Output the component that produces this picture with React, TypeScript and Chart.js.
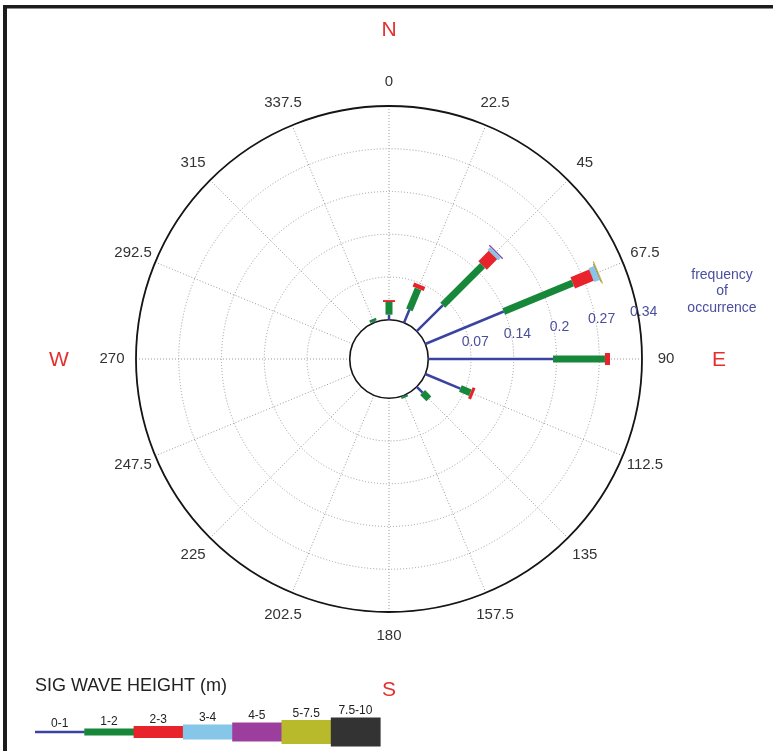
import React, { useEffect, useRef } from 'react';
import { Chart, registerables } from 'chart.js';

Chart.register(...registerables);

// ---- data ----
const directions = ['0', '22.5', '45', '67.5', '90', '112.5', '135', '157.5', '180', '202.5', '225', '247.5', '270', '292.5', '315', '337.5'];
const heightBins = ['0-1', '1-2', '2-3', '3-4', '4-5', '5-7.5', '7.5-10'];

const freq0to1 = [0.008, 0.022, 0.058, 0.134, 0.197, 0.060, 0.013, 0.001, 0, 0, 0, 0, 0, 0, 0, 0.002];
const freq1to2 = [0.020, 0.036, 0.089, 0.118, 0.082, 0.017, 0.014, 0.003, 0, 0, 0, 0, 0, 0, 0, 0.004];
const freq2to3 = [0.003, 0.007, 0.023, 0.032, 0.008, 0.005, 0, 0, 0, 0, 0, 0, 0, 0, 0, 0];
const freq3to4 = [0, 0, 0.006, 0.009, 0, 0, 0, 0, 0, 0, 0, 0, 0, 0, 0, 0];
const freq4to5 = [0, 0, 0.002, 0.001, 0, 0, 0, 0, 0, 0, 0, 0, 0, 0, 0, 0];
const freq5to75 = [0, 0, 0, 0.002, 0, 0, 0, 0, 0, 0, 0, 0, 0, 0, 0, 0];
const freq75to10 = [0, 0, 0, 0, 0, 0, 0, 0, 0, 0, 0, 0, 0, 0, 0, 0];

const binSeries = [freq0to1, freq1to2, freq2to3, freq3to4, freq4to5, freq5to75, freq75to10];

const ringValues = [0.0675, 0.135, 0.2025, 0.27, 0.3375];
const ringLabels = ['0.07', '0.14', '0.2', '0.27', '0.34'];
const calmOffset = 0.062;

const compassLetters = ['N', 'E', 'S', 'W'];
const compassIndices = [0, 4, 8, 12];

// ---- styles ----
const binColors = ['#3b43a0', '#17873a', '#e8232b', '#86c6e8', '#9c3e9e', '#b8ba2c', '#333333'];
const binWidths = [2.5, 7, 12, 15, 19, 24, 29];
const FONT = '"Liberation Sans", Arial, Helvetica, sans-serif';
const BLUE_TEXT = '#4b4e9e';
const RED_TEXT = '#e3302e';

const datasets = binSeries.map((vals, j) => {
  const starts = directions.map((_, i) => binSeries.slice(0, j).reduce((a, s) => a + s[i], 0));
  const halfLen = (c: any) => {
    const s = c.chart.scales.r;
    if (!s || !s.drawingArea) return 0;
    return (vals[c.dataIndex] * s.drawingArea) / (s.max - s.min) / 2;
  };
  return {
    label: heightBins[j],
    data: vals.map((v, i) => (v > 0 ? starts[i] + v / 2 : null)),
    showLine: false,
    fill: false,
    borderColor: binColors[j],
    backgroundColor: binColors[j],
    pointStyle: 'line',
    pointBorderColor: binColors[j],
    pointBackgroundColor: binColors[j],
    pointBorderWidth: binWidths[j],
    pointHoverBorderWidth: binWidths[j],
    pointRotation: (c: any) => {
      const s = c.chart.scales.r;
      return (s.getIndexAngle(c.dataIndex) * 180) / Math.PI - 90;
    },
    pointRadius: halfLen,
    pointHoverRadius: halfLen,
  };
});

const decorPlugin = {
  id: 'decor',
  beforeDatasetsDraw(chart: any) {
    const s = chart.scales.r;
    const ctx = chart.ctx;
    const r0 = s.getDistanceFromCenterForValue(0);
    const rOut = s.getDistanceFromCenterForValue(s.max);
    ctx.save();
    // calm hole
    ctx.beginPath();
    ctx.arc(s.xCenter, s.yCenter, r0, 0, Math.PI * 2);
    ctx.fillStyle = '#ffffff';
    ctx.fill();
    ctx.setLineDash([]);
    ctx.lineWidth = 1.6;
    ctx.strokeStyle = '#151515';
    ctx.stroke();
    // outer ring
    ctx.beginPath();
    ctx.arc(s.xCenter, s.yCenter, rOut, 0, Math.PI * 2);
    ctx.lineWidth = 1.8;
    ctx.stroke();

    // direction labels
    ctx.font = `15px ${FONT}`;
    ctx.fillStyle = '#333333';
    ctx.textAlign = 'center';
    ctx.textBaseline = 'middle';
    chart.data.labels.forEach((lab: string, i: number) => {
      const p = s.getPointPosition(i, rOut + 24);
      ctx.fillText(lab, p.x, p.y);
    });

    // compass letters
    ctx.font = `21px ${FONT}`;
    ctx.fillStyle = RED_TEXT;
    compassLetters.forEach((l, k) => {
      const p = s.getPointPosition(compassIndices[k], rOut + 77);
      ctx.fillText(l, p.x, p.y + 1);
    });

    // ring value labels
    ctx.font = `14px ${FONT}`;
    ctx.fillStyle = BLUE_TEXT;
    const ang = (-10 * Math.PI) / 180;
    ringValues.forEach((v, k) => {
      const d = s.getDistanceFromCenterForValue(v);
      ctx.fillText(ringLabels[k], s.xCenter + Math.cos(ang) * d + 5.5, s.yCenter + Math.sin(ang) * d - 3);
    });
    ctx.restore();
  },
  afterDraw(chart: any) {
    const ctx = chart.ctx;
    ctx.save();
    // frame
    ctx.fillStyle = '#1c1c1c';
    ctx.fillRect(3, 5, 775, 3.5);
    ctx.fillRect(3, 5, 4, 760);

    // frequency of occurrence
    ctx.font = `14px ${FONT}`;
    ctx.fillStyle = BLUE_TEXT;
    ctx.textAlign = 'center';
    ctx.textBaseline = 'middle';
    ['frequency', 'of', 'occurrence'].forEach((t, k) => ctx.fillText(t, 722, 275 + k * 16.5));

    // legend
    ctx.textAlign = 'left';
    ctx.fillStyle = '#222222';
    ctx.font = `18px ${FONT}`;
    ctx.fillText('SIG WAVE HEIGHT (m)', 35, 686);
    const lx = 35;
    const lw = 49.3;
    const ly = 732;
    heightBins.forEach((lab, j) => {
      const x = lx + j * lw;
      const h = binWidths[j];
      ctx.fillStyle = binColors[j];
      ctx.fillRect(x, ly - h / 2, lw + 0.5, h);
      ctx.fillStyle = '#222222';
      ctx.font = `12px ${FONT}`;
      ctx.textAlign = 'center';
      ctx.textBaseline = 'alphabetic';
      ctx.fillText(lab, x + lw / 2, ly - h / 2 - 3.5);
    });
    ctx.restore();
  },
};

export default function App() {
  const ref = useRef<HTMLCanvasElement>(null);
  useEffect(() => {
    document.body.style.margin = '0';
    document.body.style.overflow = 'hidden';
    const chart = new Chart(ref.current as HTMLCanvasElement, {
      type: 'radar',
      data: { labels: directions, datasets: datasets as any },
      options: {
        responsive: false,
        animation: false,
        devicePixelRatio: 1,
        events: [],
        layout: { padding: { left: 136, right: 131, top: 106, bottom: 139 } },
        plugins: { legend: { display: false }, tooltip: { enabled: false } },
        scales: {
          r: {
            min: -calmOffset,
            max: ringValues[ringValues.length - 1],
            startAngle: 0,
            afterBuildTicks: (sc: any) => {
              sc.ticks = [0, ...ringValues].map((v) => ({ value: v }));
            },
            ticks: { display: false },
            pointLabels: { display: false },
            grid: { circular: true, color: '#9a9a9a', lineWidth: 1 },
            border: { dash: [1, 2] } as any,
            angleLines: { display: true, color: '#9a9a9a', lineWidth: 1, borderDash: [1, 2] },
          },
        },
      } as any,
      plugins: [decorPlugin],
    });
    return () => chart.destroy();
  }, []);
  return <canvas ref={ref} width={773} height={751} style={{ display: 'block' }} />;
}
